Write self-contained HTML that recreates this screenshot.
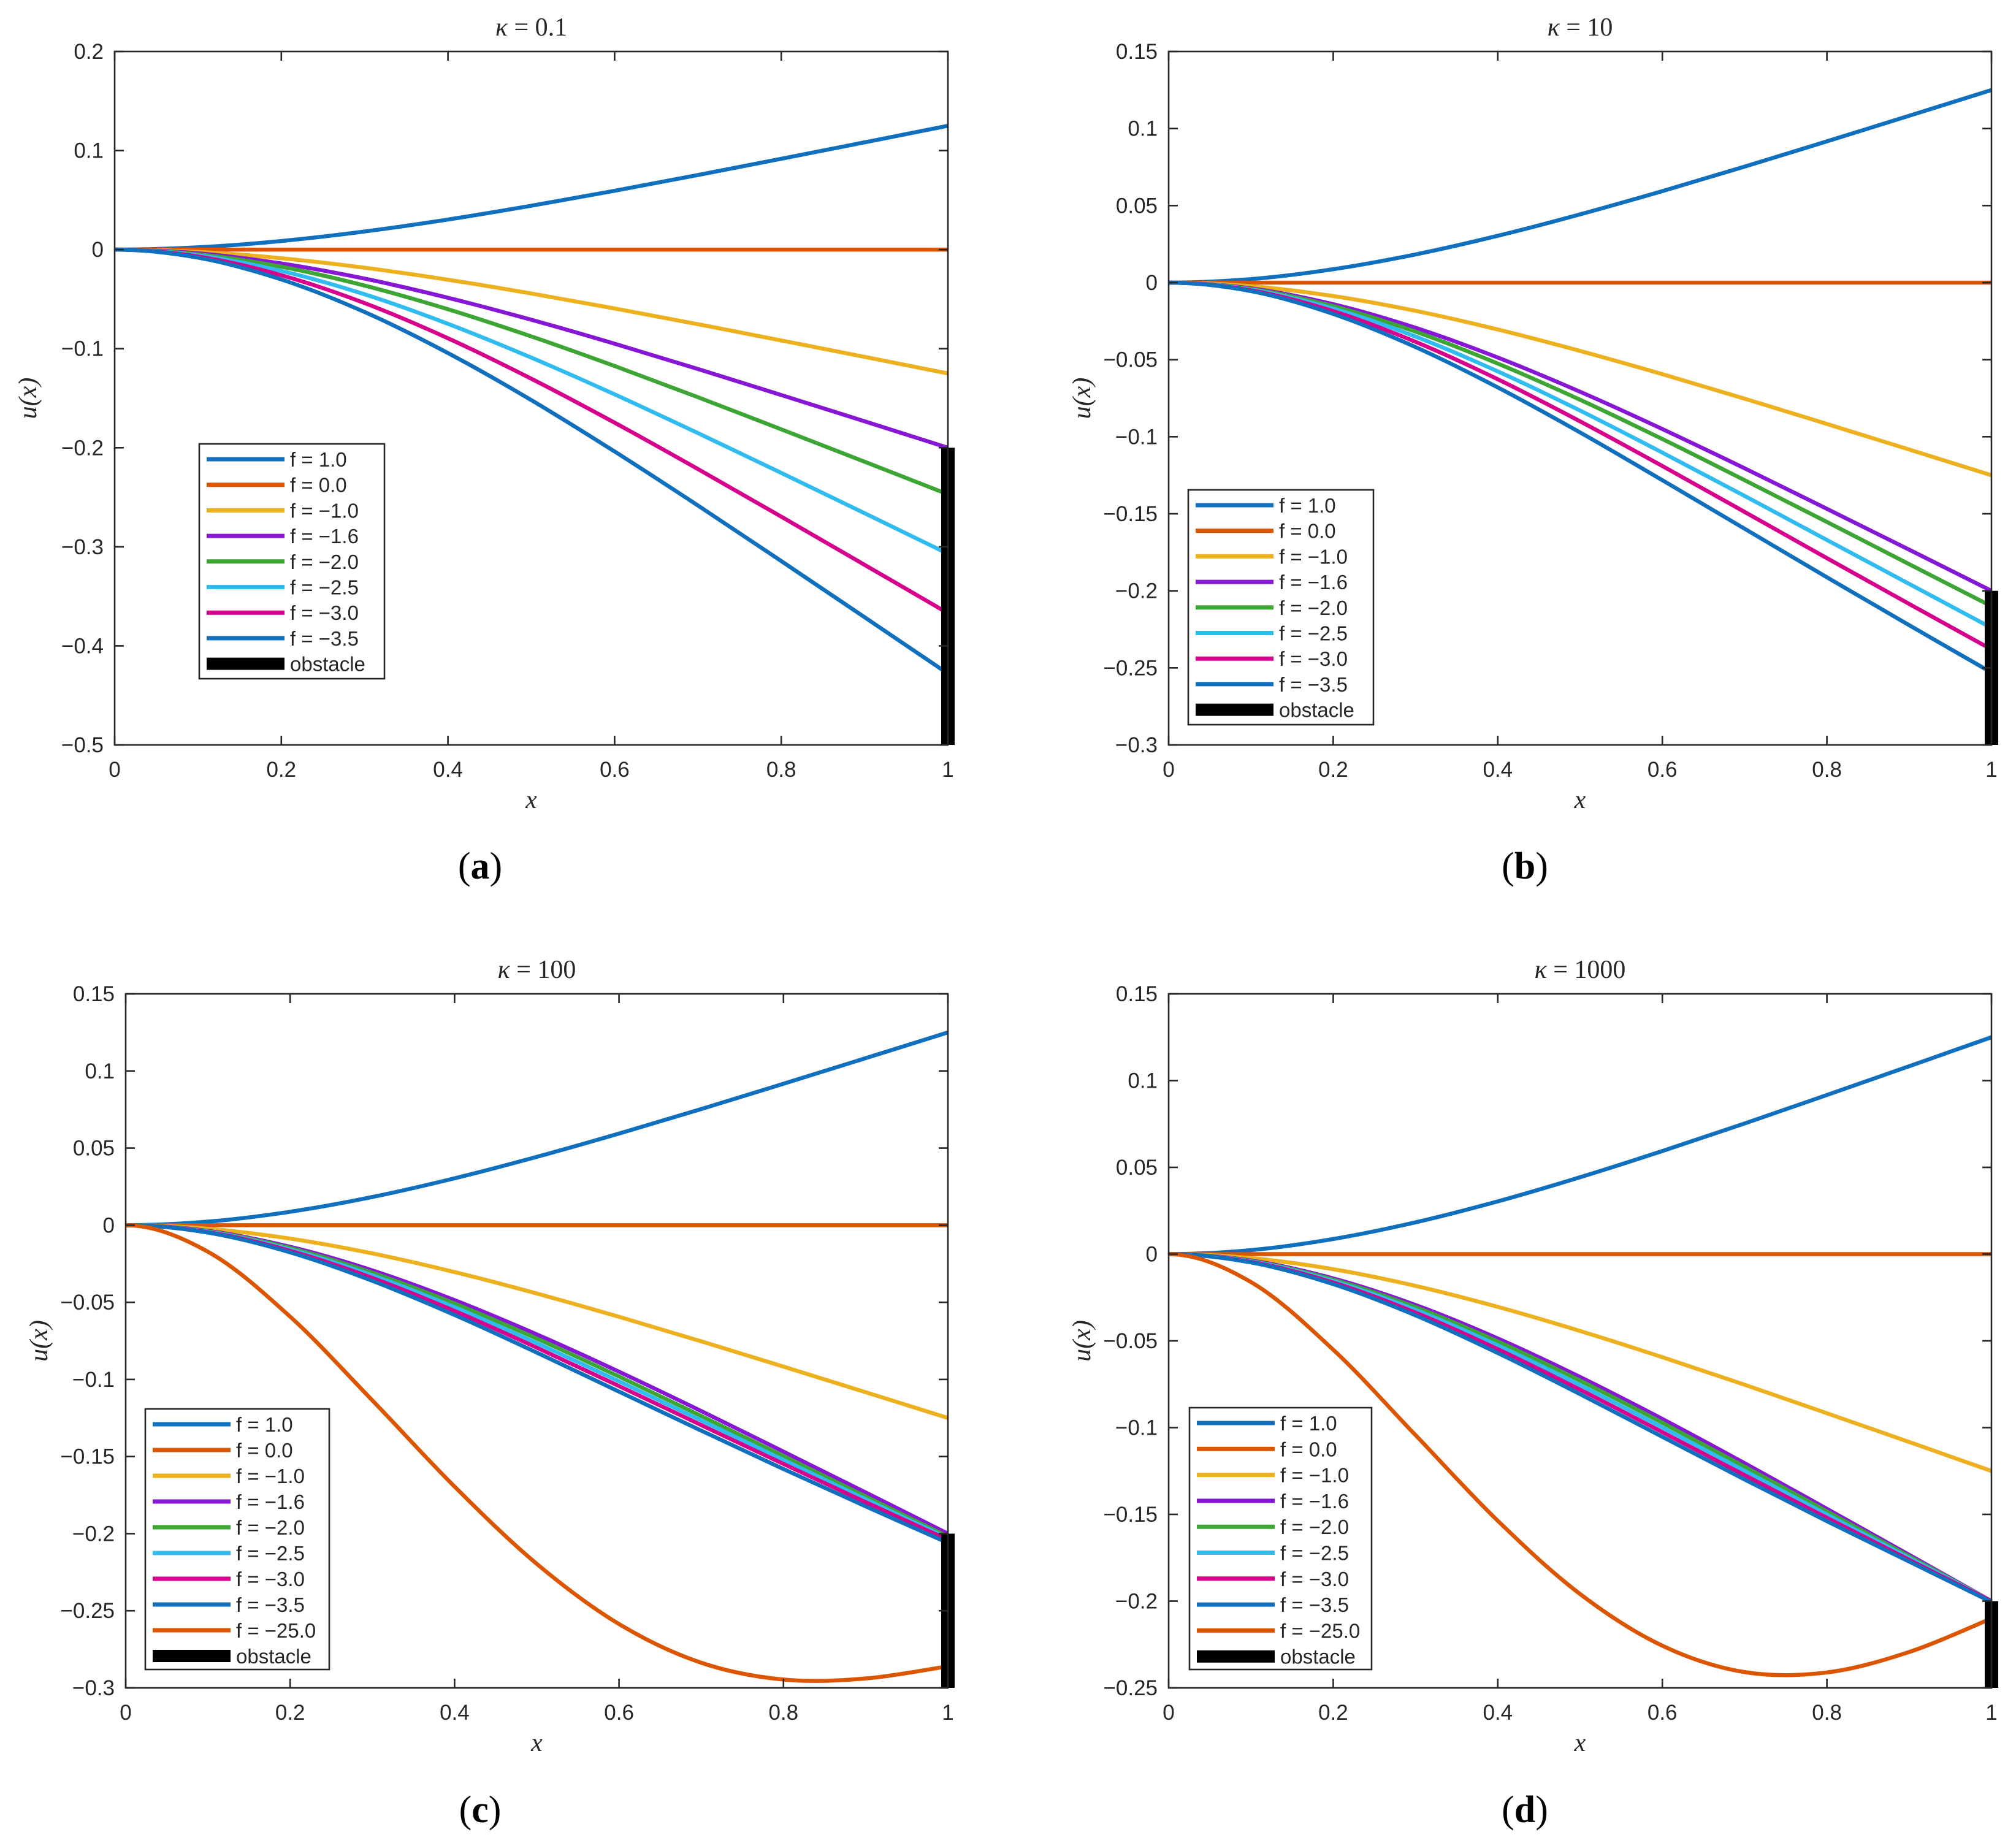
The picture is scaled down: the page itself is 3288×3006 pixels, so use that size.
<!DOCTYPE html>
<html><head><meta charset="utf-8"><style>
html,body{margin:0;padding:0;background:#fff;}
svg{display:block;}
</style></head><body>
<svg id="fig" width="3288" height="3006" viewBox="0 0 3288 3006" xmlns="http://www.w3.org/2000/svg"></svg>
<script>
const xs = [0,0.1,0.2,0.3,0.4,0.5,0.6,0.7,0.8,0.9,1.0];
const labels8 = ["f = 1.0","f = 0.0","f = \u22121.0","f = \u22121.6","f = \u22122.0","f = \u22122.5","f = \u22123.0","f = \u22123.5"];
const labels9 = labels8.concat(["f = \u221225.0"]);
const colors = ["#1170BE","#DC5500","#EDB120","#8717D4","#3DA534","#30BCEE","#D6008C","#1170BE","#DC5500"];

const fPos = [0,.0023,.0087,.0183,.0304,.0443,.0594,.0753,.0917,.1083,.125];
const fZero = [0,0,0,0,0,0,0,0,0,0,0];
const fNeg1 = [0,-.0023,-.0087,-.0183,-.0304,-.0443,-.0594,-.0753,-.0917,-.1083,-.125];
const fNeg16 = [0,-.0037,-.0140,-.0293,-.0486,-.0708,-.0950,-.1205,-.1468,-.1733,-.2];

const a_m20 = [0,-.0047,-.0173,-.0363,-.0602,-.0876,-.1175,-.1490,-.1814,-.2141,-.247];
const a_m25 = [0,-.0057,-.0215,-.0451,-.0749,-.1090,-.1461,-.1852,-.2254,-.2661,-.307];
const a_m30 = [0,-.0069,-.0258,-.0540,-.0895,-.1303,-.1747,-.2215,-.2696,-.3182,-.367];
const a_m35 = [0,-.0081,-.0301,-.0630,-.1044,-.1519,-.2038,-.2583,-.3144,-.3711,-.428];

const b_m20 = [0,-.0041,-.0153,-.0318,-.0525,-.0760,-.1015,-.1282,-.1553,-.1827,-.21];
const b_m25 = [0,-.0045,-.0168,-.0350,-.0576,-.0830,-.1103,-.1384,-.1670,-.1955,-.224];
const b_m30 = [0,-.0050,-.0185,-.0384,-.0627,-.0900,-.1190,-.1488,-.1788,-.2085,-.238];
const b_m35 = [0,-.0055,-.0203,-.0418,-.0680,-.0972,-.1282,-.1597,-.1912,-.2223,-.253];

const c_m20 = [0,-.0040,-.0148,-.0309,-.0508,-.0735,-.0981,-.1237,-.1497,-.1759,-.202];
const c_m25 = [0,-.0042,-.0157,-.0325,-.0532,-.0765,-.1012,-.1266,-.1522,-.1777,-.203];
const c_m30 = [0,-.0045,-.0166,-.0342,-.0556,-.0794,-.1043,-.1296,-.1548,-.1796,-.204];
const c_m35 = [0,-.0048,-.0176,-.0361,-.0582,-.0826,-.1079,-.1332,-.1581,-.1823,-.206];
const c_m250 = [0,-.0172,-.0593,-.1136,-.1695,-.2196,-.2586,-.2837,-.2946,-.2939,-.286];

const d_m20 = [0,-.0040,-.0147,-.0306,-.0504,-.0729,-.0972,-.1225,-.1483,-.1742,-.2];
const d_m25 = [0,-.0042,-.0155,-.0321,-.0526,-.0755,-.0999,-.1249,-.1501,-.1751,-.2];
const d_m30 = [0,-.0045,-.0164,-.0337,-.0548,-.0781,-.1026,-.1274,-.1520,-.1762,-.2];
const d_m35 = [0,-.0048,-.0173,-.0353,-.0570,-.0807,-.1053,-.1299,-.1539,-.1772,-.2005];
const d_m250 = [0,-.0161,-.0551,-.1043,-.1537,-.1959,-.2257,-.2409,-.2411,-.2293,-.21];

const xTicks = [0,0.2,0.4,0.6,0.8,1];
const xTickLabels = ["0","0.2","0.4","0.6","0.8","1"];
const yTicksA = [-0.5,-0.4,-0.3,-0.2,-0.1,0,0.1,0.2];
const yLabelsA = ["\u22120.5","\u22120.4","\u22120.3","\u22120.2","\u22120.1","0","0.1","0.2"];
const yTicksB = [-0.3,-0.25,-0.2,-0.15,-0.1,-0.05,0,0.05,0.1,0.15];
const yLabelsB = ["\u22120.3","\u22120.25","\u22120.2","\u22120.15","\u22120.1","\u22120.05","0","0.05","0.1","0.15"];
const yTicksD = [-0.25,-0.2,-0.15,-0.1,-0.05,0,0.05,0.1,0.15];
const yLabelsD = ["\u22120.25","\u22120.2","\u22120.15","\u22120.1","\u22120.05","0","0.05","0.1","0.15"];

const NS = "http://www.w3.org/2000/svg";
const svg = document.getElementById('fig');
function mk(tag, attrs, parent){ const e=document.createElementNS(NS,tag); for(const k in attrs) e.setAttribute(k,attrs[k]); (parent||svg).appendChild(e); return e; }

function smoothPath(pts){
  let d = "M"+pts[0][0].toFixed(2)+","+pts[0][1].toFixed(2);
  for(let i=0;i<pts.length-1;i++){
    const p0=pts[Math.max(i-1,0)], p1=pts[i], p2=pts[i+1], p3=pts[Math.min(i+2,pts.length-1)];
    let c1;
    if(i===0){ c1=[p1[0]+(p2[0]-p1[0])/3, p1[1]]; }
    else { c1=[p1[0]+(p2[0]-p0[0])/6, p1[1]+(p2[1]-p0[1])/6]; }
    const c2=[p2[0]-(p3[0]-p1[0])/6, p2[1]-(p3[1]-p1[1])/6];
    d += " C"+c1[0].toFixed(2)+","+c1[1].toFixed(2)+" "+c2[0].toFixed(2)+","+c2[1].toFixed(2)+" "+p2[0].toFixed(2)+","+p2[1].toFixed(2);
  }
  return d;
}

function panel(p){
  const g = mk('g',{});
  
  
  const X = v => p.L + (v-0)/(1-0)*(p.R-p.L);
  const Y = v => p.B - (v-p.ymin)/(p.ymax-p.ymin)*(p.B-p.T);
  p.series.forEach((s,i)=>{
    const pts = xs.map((x,k)=>[X(x),Y(s[k])]);
    const path = mk('path',{d:smoothPath(pts),fill:'none',stroke:colors[i],'stroke-width':6.5,'stroke-linejoin':'round'},g);
    
    
  });
  const ob = mk('rect',{x:X(1)-11,y:Y(-0.2),width:22,height:p.B-Y(-0.2),fill:'#000'},g);
  
  
  const box = mk('rect',{x:p.L,y:p.T,width:p.R-p.L,height:p.B-p.T,fill:'none',stroke:'#262626','stroke-width':2.6},g);
  
  
  xTicks.forEach((t,i)=>{
    const x=X(t);
    mk('line',{x1:x,y1:p.B,x2:x,y2:p.B-15,stroke:'#262626','stroke-width':2.6},g);
    mk('line',{x1:x,y1:p.T,x2:x,y2:p.T+15,stroke:'#262626','stroke-width':2.6},g);
    const tx = mk('text',{x:x,y:p.B+52,'text-anchor':'middle','font-family':'Liberation Sans, sans-serif','font-size':35,fill:'#262626'},g);
    tx.textContent = xTickLabels[i];
    
    
  });
  p.yt.forEach((t,i)=>{
    const y=Y(t);
    mk('line',{x1:p.L,y1:y,x2:p.L+15,y2:y,stroke:'#262626','stroke-width':2.6},g);
    mk('line',{x1:p.R,y1:y,x2:p.R-15,y2:y,stroke:'#262626','stroke-width':2.6},g);
    const ty = mk('text',{x:p.L-18,y:y+12,'text-anchor':'end','font-family':'Liberation Sans, sans-serif','font-size':35,fill:'#262626'},g);
    ty.textContent = p.yl[i];
    
    
  });
  const ti = mk('text',{x:(p.L+p.R)/2,y:p.T-26,'text-anchor':'middle','font-family':'Liberation Serif, serif','font-size':42,fill:'#262626'},g);
  ti.innerHTML = '<tspan font-style="italic">\u03BA</tspan> = '+p.k;
  
  
  const xl = mk('text',{x:(p.L+p.R)/2,y:p.B+103,'text-anchor':'middle','font-family':'Liberation Serif, serif','font-style':'italic','font-size':42,fill:'#262626'},g);
  xl.textContent='x';
  
  
  const cy=(p.T+p.B)/2, cx=p.L-128;
  const yl = mk('text',{x:cx,y:cy,'text-anchor':'middle','font-family':'Liberation Serif, serif','font-style':'italic','font-size':42,fill:'#262626',transform:'rotate(-90 '+cx+' '+cy+')'},g);
  yl.textContent='u(x)';
  
  
  const labs = p.series.length===9 ? labels9 : labels8;
  const n = labs.length+1;
  const lg = mk('g',{},g);
  
  
  mk('rect',{x:p.lx,y:p.ly,width:p.lw,height:p.lh,fill:'#fff',stroke:'#262626','stroke-width':2.6},lg);
  for(let i=0;i<n;i++){
    const yy = p.ly+25+i*p.ls;
    const isOb = i===labs.length;
    mk('line',{x1:p.lx+12,y1:yy,x2:p.lx+139,y2:yy,stroke:isOb?'#000':colors[i],'stroke-width':isOb?20:7},lg);
    const t = mk('text',{x:p.lx+148,y:yy+12,'font-family':'Liberation Sans, sans-serif','font-size':33,fill:'#262626'},lg);
    t.textContent = isOb ? 'obstacle' : labs[i];
    
    
  }
  const sc = mk('text',{x:(p.id==='a'||p.id==='c')?783:2487,y:p.capY,'text-anchor':'middle','font-family':'Liberation Serif, serif','font-size':62,fill:'#000'},g);
  sc.innerHTML = '(<tspan font-weight="bold">'+p.id+'</tspan>)';
  
  
}

panel({id:'a',k:'0.1',L:187,R:1546,T:84,B:1215,ymin:-0.5,ymax:0.2,yt:yTicksA,yl:yLabelsA,
  series:[fPos,fZero,fNeg1,fNeg16,a_m20,a_m25,a_m30,a_m35],lx:325,ly:724,lw:302,lh:383,ls:41.7,capY:1433});
panel({id:'b',k:'10',L:1906,R:3248,T:84,B:1215,ymin:-0.3,ymax:0.15,yt:yTicksB,yl:yLabelsB,
  series:[fPos,fZero,fNeg1,fNeg16,b_m20,b_m25,b_m30,b_m35],lx:1938,ly:799,lw:302,lh:383,ls:41.7,capY:1433});
panel({id:'c',k:'100',L:205,R:1546,T:1621,B:2753,ymin:-0.3,ymax:0.15,yt:yTicksB,yl:yLabelsB,
  series:[fPos,fZero,fNeg1,fNeg16,c_m20,c_m25,c_m30,c_m35,c_m250],lx:237,ly:2298,lw:300,lh:425,ls:42,capY:2972});
panel({id:'d',k:'1000',L:1906,R:3248,T:1621,B:2753,ymin:-0.25,ymax:0.15,yt:yTicksD,yl:yLabelsD,
  series:[fPos,fZero,fNeg1,fNeg16,d_m20,d_m25,d_m30,d_m35,d_m250],lx:1940,ly:2296,lw:297,lh:427,ls:42.3,capY:2972});
</script>
</body></html>
